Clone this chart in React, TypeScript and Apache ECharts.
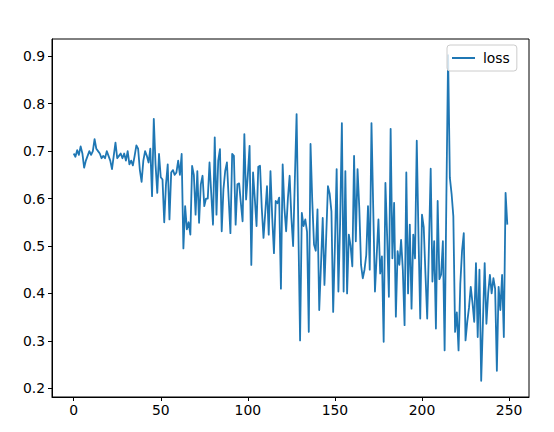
import React, { useEffect, useRef } from "react";
import * as echarts from "echarts";

const loss: number[] = [
  // 0-20
  0.695, 0.688, 0.702, 0.692, 0.71, 0.695, 0.665, 0.68, 0.69, 0.70, 0.692, 0.70, 0.725, 0.705, 0.70, 0.695, 0.685, 0.69, 0.685, 0.70, 0.69,
  // 21-41
  0.68, 0.662, 0.69, 0.718, 0.685, 0.69, 0.695, 0.685, 0.695, 0.68, 0.70, 0.672, 0.68, 0.67, 0.69, 0.712, 0.705, 0.66, 0.635, 0.68, 0.70,
  // 42-63
  0.69, 0.676, 0.705, 0.605, 0.768, 0.672, 0.612, 0.694, 0.645, 0.64, 0.55, 0.63, 0.672, 0.556, 0.655, 0.66, 0.65, 0.655, 0.68, 0.65, 0.694, 0.495,
  // 64-84
  0.584, 0.535, 0.55, 0.524, 0.669, 0.65, 0.566, 0.658, 0.549, 0.63, 0.648, 0.584, 0.60, 0.60, 0.676, 0.61, 0.545, 0.729, 0.566, 0.68, 0.704,
  // 85-106
  0.531, 0.62, 0.658, 0.676, 0.6, 0.527, 0.694, 0.69, 0.545, 0.63, 0.632, 0.59, 0.552, 0.736, 0.598, 0.65, 0.711, 0.46, 0.655, 0.6, 0.542, 0.667,
  // 107-127
  0.669, 0.58, 0.517, 0.57, 0.626, 0.524, 0.658, 0.56, 0.485, 0.595, 0.59, 0.602, 0.41, 0.672, 0.58, 0.531, 0.60, 0.648, 0.56, 0.50, 0.64,
  // 128-150
  0.778, 0.54, 0.301, 0.57, 0.542, 0.556, 0.53, 0.319, 0.715, 0.595, 0.503, 0.49, 0.577, 0.365, 0.46, 0.559, 0.418, 0.52, 0.626, 0.61, 0.573, 0.361, 0.50,
  // 151-170
  0.662, 0.404, 0.55, 0.759, 0.404, 0.658, 0.40, 0.524, 0.50, 0.457, 0.69, 0.51, 0.662, 0.58, 0.46, 0.432, 0.45, 0.481, 0.584, 0.45,
  // 171-190
  0.759, 0.58, 0.404, 0.48, 0.556, 0.442, 0.478, 0.298, 0.633, 0.52, 0.393, 0.747, 0.474, 0.591, 0.351, 0.489, 0.46, 0.513, 0.45, 0.333,
  // 191-212
  0.655, 0.40, 0.545, 0.368, 0.524, 0.474, 0.722, 0.52, 0.347, 0.566, 0.54, 0.44, 0.347, 0.50, 0.663, 0.425, 0.51, 0.326, 0.595, 0.43, 0.44, 0.51,
  // 213-234
  0.28, 0.6, 0.902, 0.644, 0.61, 0.563, 0.319, 0.36, 0.28, 0.42, 0.49, 0.527, 0.301, 0.34, 0.37, 0.414, 0.38, 0.34, 0.464, 0.308, 0.45, 0.216,
  // 235-249
  0.34, 0.464, 0.336, 0.40, 0.439, 0.40, 0.432, 0.41, 0.237, 0.414, 0.365, 0.439, 0.308, 0.612, 0.545,
];

const xTicks: number[] = [0, 50, 100, 150, 200, 250];
const yTicks: number[] = [0.2, 0.3, 0.4, 0.5, 0.6, 0.7, 0.8, 0.9];
const seriesName = "loss";

export default function App() {
  const ref = useRef<HTMLDivElement>(null);
  useEffect(() => {
    if (!ref.current) return;
    const chart = echarts.init(ref.current, undefined, { renderer: "svg" });
    const n = loss.length;
    const xMin = 0, xMax = n - 1;
    const xPad = (xMax - xMin) * 0.05;
    const yLo = Math.min(...loss), yHi = Math.max(...loss);
    const yPad = (yHi - yLo) * 0.05;
    const font = "DejaVu Sans";
    chart.setOption({
      animation: false,
      grid: {
        left: 52, top: 39, right: 25, bottom: 35,
        show: true, borderColor: "#000", borderWidth: 1,
      },
      legend: {
        data: [seriesName],
        left: 447, top: 45,
        padding: [6, 7, 6, 5],
        backgroundColor: "rgba(255,255,255,0.8)",
        borderColor: "#cccccc", borderWidth: 1, borderRadius: 3,
        icon: "rect", itemWidth: 23, itemHeight: 2,
        itemGap: 5,
        textStyle: { fontFamily: font, fontSize: 13.9, color: "#000", padding: [0, 0, 0, 3] },
      },
      xAxis: {
        type: "value",
        min: xMin - xPad, max: xMax + xPad,
        splitLine: { show: false },
        axisLine: { show: true, onZero: false, lineStyle: { color: "#000", width: 1 } },
        axisTick: { show: true, length: 4, customValues: xTicks, lineStyle: { color: "#000" } },
        axisLabel: {
          customValues: xTicks, margin: 6,
          fontFamily: font, fontSize: 13.9, color: "#000",
          formatter: (v: number) => String(Math.round(v)),
        },
      },
      yAxis: {
        type: "value",
        min: yLo - yPad, max: yHi + yPad,
        splitLine: { show: false },
        axisLine: { show: true, onZero: false, lineStyle: { color: "#000", width: 1 } },
        axisTick: { show: true, length: 4, customValues: yTicks, lineStyle: { color: "#000" } },
        axisLabel: {
          customValues: yTicks, margin: 7,
          fontFamily: font, fontSize: 13.9, color: "#000",
          formatter: (v: number) => v.toFixed(1),
        },
      },
      series: [
        {
          name: seriesName,
          type: "line",
          data: loss.map((v, i) => [i, v]),
          showSymbol: false,
          symbol: "none",
          lineStyle: { color: "#1f77b4", width: 1.8, join: "round" },
          itemStyle: { color: "#1f77b4" },
        },
      ],
    });
    return () => chart.dispose();
  }, []);
  return (
    <div
      ref={ref}
      style={{ position: "fixed", left: 0, top: 0, width: 554, height: 432, background: "#fff" }}
    />
  );
}
